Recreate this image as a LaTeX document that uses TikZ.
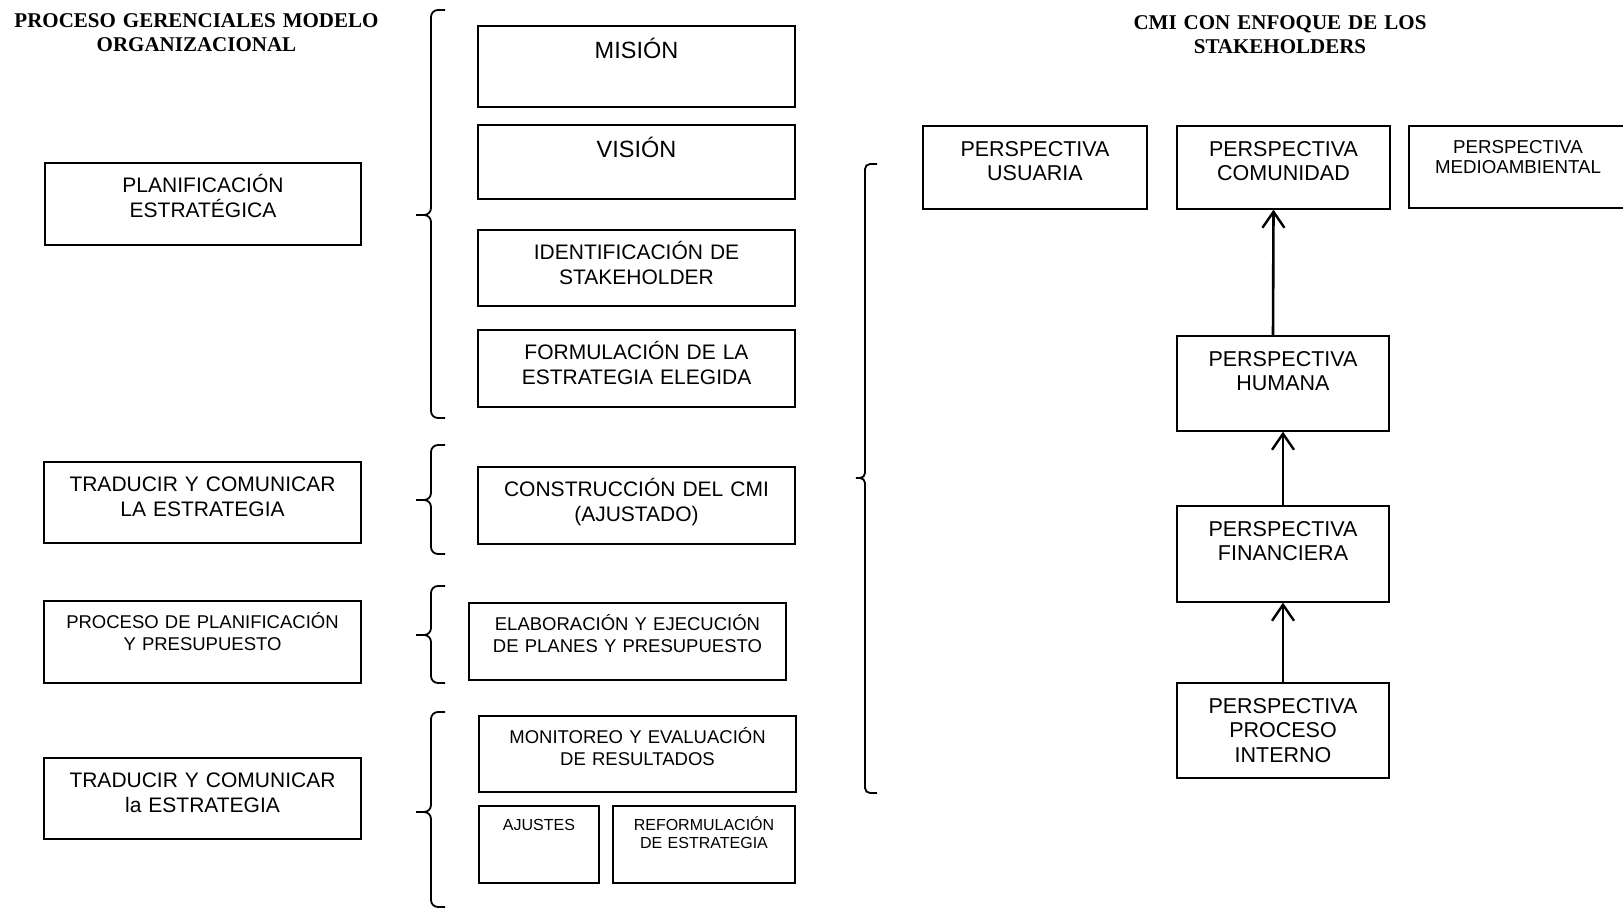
\documentclass[tikz,border=0pt]{standalone}
\usepackage{fontspec}
\setmainfont{Liberation Sans}
\newfontfamily\titlefont{Liberation Serif}
\usetikzlibrary{arrows.meta}
\tikzstyle{fBox} = [rectangle, draw=black, line width=1.3pt, inner sep=0pt]
\tikzstyle{fText} = [anchor=north, text width=310pt, align=center, inner sep=0pt, execute at begin node={\rule{0pt}{1em}}]
\tikzstyle{fTextL} = [fText, font=\fontsize{23.5}{28}\selectfont]
\tikzstyle{fTextM} = [fText, font=\fontsize{21}{25}\selectfont]
\tikzstyle{fTextP} = [fText, font=\fontsize{21.5}{24.5}\selectfont]
\tikzstyle{fTextS} = [fText, font=\fontsize{18.5}{22}\selectfont]
\tikzstyle{fTextXS} = [fText, font=\fontsize{18.7}{20.5}\selectfont]
\tikzstyle{fTextT} = [fText, font=\fontsize{16}{18}\selectfont]
\tikzstyle{fTitle} = [fText, text width=420pt, font=\titlefont\bfseries\fontsize{21}{24.5}\selectfont]
\tikzstyle{fBrace} = [line width=1.8pt, rounded corners=7pt]
\tikzstyle{fArrow} = [line width=2.6pt, -{Straight Barb[length=16pt, width=22pt, line width=2.4pt]}]

\begin{document}
\begin{tikzpicture}[x=1pt, y=-1pt]
    \useasboundingbox[fill=white] (0,0) rectangle (1623,909);

    \node (title1) [fTitle] at (196.5,6) {PROCESO GERENCIALES MODELO\\ORGANIZACIONAL};
    \node (title2) [fTitle] at (1280,8) {CMI CON ENFOQUE DE LOS\\STAKEHOLDERS};

    % procesos gerenciales
    \node (plan) [fBox, minimum width=316pt, minimum height=82pt] at (203,204) {};
    \node (plan-t) [fTextM] at ([yshift=-9pt]plan.north) {PLANIFICACIÓN\\ESTRATÉGICA};
    \node (trad) [fBox, minimum width=317pt, minimum height=81pt] at (202.5,502.5) {};
    \node (trad-t) [fTextM] at ([yshift=-9pt]trad.north) {TRADUCIR Y COMUNICAR\\LA ESTRATEGIA};
    \node (presu) [fBox, minimum width=317pt, minimum height=82pt] at (202.5,642) {};
    \node (presu-t) [fTextS] at ([yshift=-9pt]presu.north) {PROCESO DE PLANIFICACIÓN\\Y PRESUPUESTO};
    \node (trad2) [fBox, minimum width=317pt, minimum height=81pt] at (202.5,798.5) {};
    \node (trad2-t) [fTextM] at ([yshift=-9pt]trad2.north) {TRADUCIR Y COMUNICAR\\la ESTRATEGIA};

    % actividades
    \node (mision) [fBox, minimum width=317pt, minimum height=81pt] at (636.5,66.5) {};
    \node (mision-t) [fTextL] at ([yshift=-9pt]mision.north) {MISIÓN};
    \node (vision) [fBox, minimum width=317pt, minimum height=74pt] at (636.5,162) {};
    \node (vision-t) [fTextL] at ([yshift=-9pt]vision.north) {VISIÓN};
    \node (ident) [fBox, minimum width=317pt, minimum height=76pt] at (636.5,268) {};
    \node (ident-t) [fTextM] at ([yshift=-9pt]ident.north) {IDENTIFICACIÓN DE\\STAKEHOLDER};
    \node (formul) [fBox, minimum width=317pt, minimum height=77pt] at (636.5,368.5) {};
    \node (formul-t) [fTextM] at ([yshift=-9pt]formul.north) {FORMULACIÓN DE LA\\ESTRATEGIA ELEGIDA};
    \node (constr) [fBox, minimum width=317pt, minimum height=77pt] at (636.5,505.5) {};
    \node (constr-t) [fTextM] at ([yshift=-9pt]constr.north) {CONSTRUCCIÓN DEL CMI\\(AJUSTADO)};
    \node (elab) [fBox, minimum width=317pt, minimum height=77pt] at (627.5,641.5) {};
    \node (elab-t) [fTextS] at ([yshift=-9pt]elab.north) {ELABORACIÓN Y EJECUCIÓN\\DE PLANES Y PRESUPUESTO};
    \node (monit) [fBox, minimum width=317pt, minimum height=76pt] at (637.5,754) {};
    \node (monit-t) [fTextS] at ([yshift=-9pt]monit.north) {MONITOREO Y EVALUACIÓN\\DE RESULTADOS};
    \node (ajust) [fBox, minimum width=120pt, minimum height=77pt] at (539,844.5) {};
    \node (ajust-t) [fTextT] at ([yshift=-9pt]ajust.north) {AJUSTES};
    \node (reform) [fBox, minimum width=182pt, minimum height=77pt] at (704,844.5) {};
    \node (reform-t) [fTextT] at ([yshift=-9pt]reform.north) {REFORMULACIÓN\\DE ESTRATEGIA};

    % llaves
    \draw [fBrace] (445,10) -| (431,215) -- (412,215) -- (431,215) |- (445,418);
    \draw [fBrace] (445,445) -| (431,500) -- (412,500) -- (431,500) |- (445,554);
    \draw [fBrace] (445,586) -| (431,635) -- (412,635) -- (431,635) |- (445,683);
    \draw [fBrace] (445,712) -| (431,812) -- (412,812) -- (431,812) |- (445,907);
    \draw [fBrace, rounded corners=5pt] (877,164) -| (865,478) -- (853,478) -- (865,478) |- (877,793);

    % perspectivas
    \node (usuaria) [fBox, minimum width=224pt, minimum height=83pt] at (1035,167.5) {};
    \node (usuaria-t) [fTextP] at ([yshift=-9pt]usuaria.north) {PERSPECTIVA\\USUARIA};
    \node (comunidad) [fBox, minimum width=213pt, minimum height=83pt] at (1283.5,167.5) {};
    \node (comunidad-t) [fTextP] at ([yshift=-9pt]comunidad.north) {PERSPECTIVA\\COMUNIDAD};
    \node (medio) [fBox, minimum width=218pt, minimum height=82pt] at (1518,167) {};
    \node (medio-t) [fTextXS] at ([yshift=-9pt]medio.north) {PERSPECTIVA\\MEDIOAMBIENTAL};
    \node (humana) [fBox, minimum width=212pt, minimum height=95pt] at (1283,383.5) {};
    \node (humana-t) [fTextP] at ([yshift=-9pt]humana.north) {PERSPECTIVA\\HUMANA};
    \node (financiera) [fBox, minimum width=212pt, minimum height=96pt] at (1283,554) {};
    \node (financiera-t) [fTextP] at ([yshift=-9pt]financiera.north) {PERSPECTIVA\\FINANCIERA};
    \node (interno) [fBox, minimum width=212pt, minimum height=95pt] at (1283,730.5) {};
    \node (interno-t) [fTextP] at ([yshift=-9pt]interno.north) {PERSPECTIVA\\PROCESO\\INTERNO};

    \draw [fArrow] ([xshift=-10pt]humana.north) -- ([xshift=-10pt]comunidad.south);
    \draw [fArrow] (financiera) -- (humana);
    \draw [fArrow] (interno) -- (financiera);
\end{tikzpicture}
\end{document}
